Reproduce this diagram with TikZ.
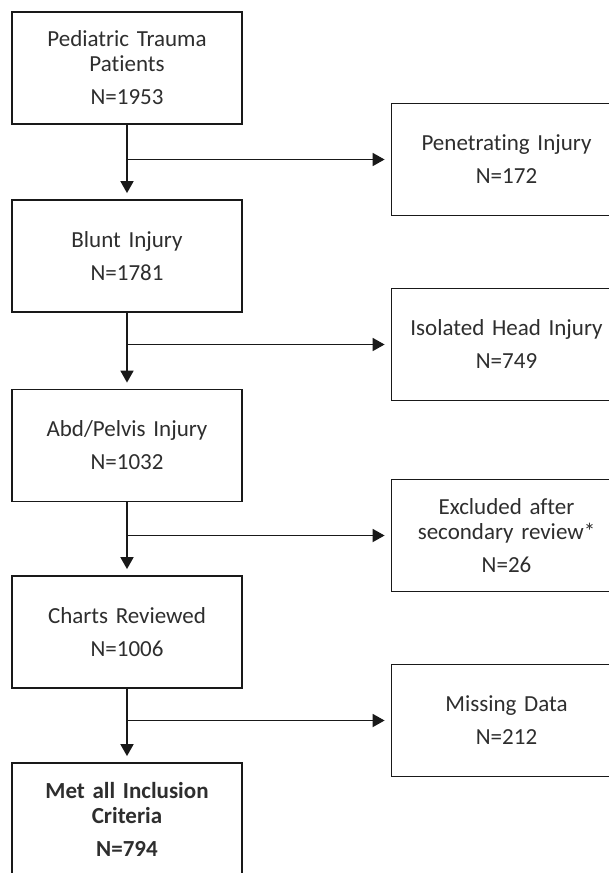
\documentclass[tikz,border=0pt]{standalone}
\usepackage{fontspec}
\setmainfont[Ligatures={NoCommon}, WordSpace=0.8]{Carlito}
\usetikzlibrary{arrows.meta}
\tikzset{
  boxnode/.style={draw=black!90, line width=1.8pt, rectangle, minimum width=230pt, minimum height=112pt, text width=224pt, align=center, inner sep=0pt, text=black!82, font=\fontsize{23}{25}\selectfont},
  flowarrow/.style={draw=black!90, line width=1.8pt, -{Triangle[width=13pt,length=12pt]}, shorten >=6pt},
}
\newcommand{\gapline}{\\[8pt]}
\begin{document}
\begin{tikzpicture}[x=1pt,y=-1pt]
\useasboundingbox[fill=white] (0,0) rectangle (609,873);
\node[boxnode] (b1) at (127,68) {Pediatric Trauma\\Patients\gapline N=1953};
\node[boxnode] (b2) at (127,256) {Blunt Injury\gapline N=1781};
\node[boxnode] (b3) at (127,445.5) {Abd/Pelvis Injury\gapline N=1032};
\node[boxnode] (b4) at (127,632) {Charts Reviewed\gapline N=1006};
\node[boxnode, font=\fontsize{23}{25}\selectfont\bfseries] (b5) at (127,819) {Met all Inclusion\\Criteria\gapline N=794};
\node[boxnode] (r1) at (506.5,159.5) {Penetrating Injury\gapline N=172};
\node[boxnode] (r2) at (506.5,344.5) {Isolated Head Injury\gapline N=749};
\node[boxnode] (r3) at (506.5,535.5) {Excluded after\\secondary review*\gapline N=26};
\node[boxnode] (r4) at (506.5,720.5) {Missing Data\gapline N=212};
\foreach \a/\b/\r in {b1/b2/r1, b2/b3/r2, b3/b4/r3, b4/b5/r4}{
  \draw[flowarrow] (\a.south) -- (\b.north);
  \coordinate (j\r) at (\a.south |- \r.west);
  \draw[flowarrow] (j\r) -- (\r.west);
}
\end{tikzpicture}
\end{document}
